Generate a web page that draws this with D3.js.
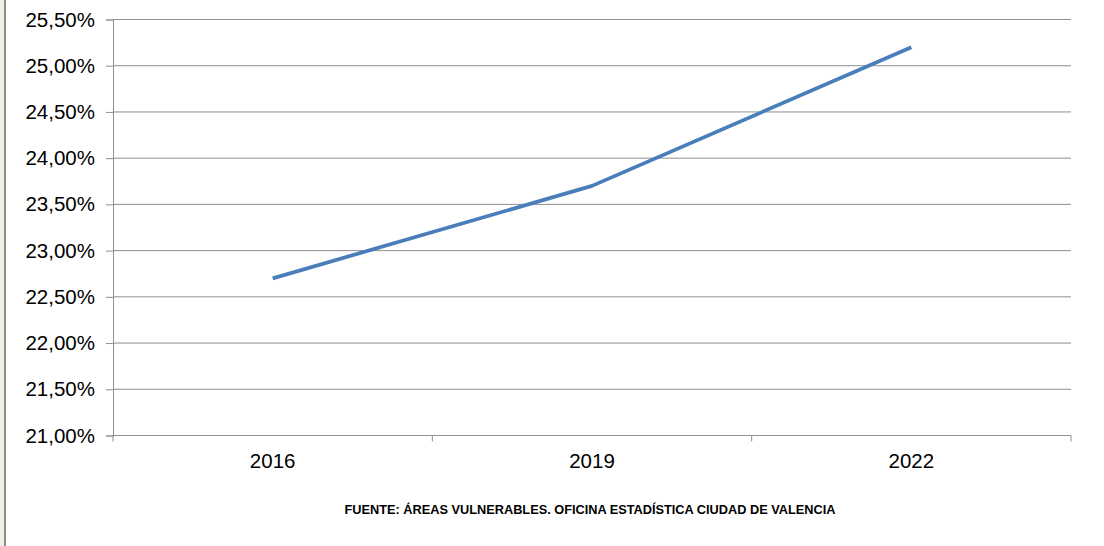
<!DOCTYPE html>
<html>
<head>
<meta charset="utf-8">
<script src="https://cdn.jsdelivr.net/npm/d3@7"></script>
<style>
  html, body { margin: 0; padding: 0; background: #ffffff; }
  svg { display: block; }
</style>
</head>
<body>
<svg id="chart" width="1104" height="546"></svg>
<script>
// Data
const years = ["2016", "2019", "2022"];
const shares = [22.70, 23.70, 25.20];
const yTicks = [21.0, 21.5, 22.0, 22.5, 23.0, 23.5, 24.0, 24.5, 25.0, 25.5];
const sourceNote = "FUENTE: ÁREAS VULNERABLES. OFICINA ESTADÍSTICA CIUDAD DE VALENCIA";

const svg = d3.select("#chart");
const W = 1104, H = 546;
const plot = { left: 113, right: 1071, top: 19.5, bottom: 435.5 };

// Left frame edge
svg.append("rect").attr("x", 0).attr("y", 0).attr("width", 4).attr("height", H).attr("fill", "#f4efe6");
svg.append("rect").attr("x", 4).attr("y", 0).attr("width", 2).attr("height", H).attr("fill", "#8c8c8c");

const x = d3.scaleBand().domain(years).range([plot.left, plot.right]).paddingInner(0).paddingOuter(0);
const y = d3.scaleLinear().domain([21, 25.5]).range([plot.bottom, plot.top]);

const fmt = v => d3.format(".2f")(v).replace(".", ",") + "%";

// Horizontal gridlines
svg.append("g")
  .selectAll("line")
  .data(yTicks)
  .join("line")
  .attr("x1", plot.left).attr("x2", plot.right)
  .attr("y1", d => y(d)).attr("y2", d => y(d))
  .attr("stroke", "#8f8f8f").attr("stroke-width", 1);

// Y axis
const yAxis = svg.append("g")
  .attr("transform", `translate(${plot.left},0)`)
  .call(d3.axisLeft(y).tickValues(yTicks).tickFormat(fmt).tickSize(7).tickPadding(11));
yAxis.select(".domain").attr("stroke", "#8f8f8f");
yAxis.selectAll(".tick line").attr("stroke", "#8f8f8f");
yAxis.selectAll("text")
  .attr("font-family", "Liberation Sans, Arial, sans-serif")
  .attr("font-size", 20.5).attr("fill", "#000");

// X axis (category boundaries as ticks)
const xAxisG = svg.append("g").attr("transform", `translate(0,${plot.bottom})`);
xAxisG.append("line")
  .attr("x1", plot.left).attr("x2", plot.right)
  .attr("y1", 0).attr("y2", 0)
  .attr("stroke", "#8f8f8f");
const bounds = years.map(d => x(d)).concat([plot.right]);
xAxisG.selectAll("line.bound")
  .data(bounds)
  .join("line")
  .attr("class", "bound")
  .attr("x1", d => d).attr("x2", d => d)
  .attr("y1", 0).attr("y2", 6)
  .attr("stroke", "#8f8f8f");
xAxisG.selectAll("text")
  .data(years)
  .join("text")
  .attr("x", d => x(d) + x.bandwidth() / 2)
  .attr("y", 32)
  .attr("text-anchor", "middle")
  .attr("font-family", "Liberation Sans, Arial, sans-serif")
  .attr("font-size", 20.5).attr("fill", "#000")
  .text(d => d);

// Series line
const line = d3.line()
  .x((d, i) => x(years[i]) + x.bandwidth() / 2)
  .y(d => y(d));
svg.append("path")
  .datum(shares)
  .attr("d", line)
  .attr("fill", "none")
  .attr("stroke", "#4a7ebb")
  .attr("stroke-width", 3.75)
  .attr("stroke-linejoin", "round");

// Source note
svg.append("text")
  .attr("x", 590).attr("y", 514)
  .attr("text-anchor", "middle")
  .attr("font-family", "Liberation Sans, Arial, sans-serif")
  .attr("font-weight", "bold")
  .attr("font-size", 12.75).attr("fill", "#000")
  .text(sourceNote);
</script>
</body>
</html>
